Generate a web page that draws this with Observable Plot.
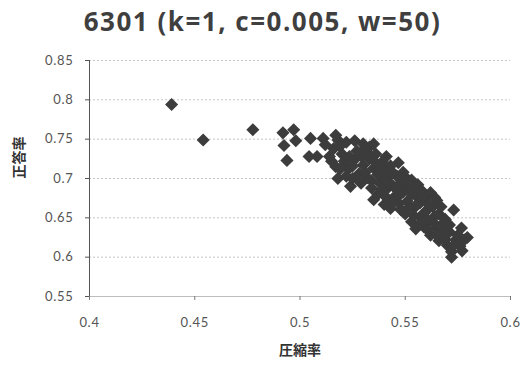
<!DOCTYPE html>
<html>
<head>
<meta charset="utf-8">
<script src="https://cdn.jsdelivr.net/npm/d3@7"></script>
<script src="https://cdn.jsdelivr.net/npm/@observablehq/plot@0.6"></script>
<style>
  html, body { margin: 0; padding: 0; background: #fff; }
  #title { width: 525px; height: 46px; line-height: 42px; text-align: center; letter-spacing: 1.5px;
           font-family: "Open Sans", Lato, sans-serif; font-weight: bold; font-size: 26px; color: #3f3f3f; }
  svg g[aria-label="x-axis tick label"], svg g[aria-label="y-axis tick label"] { fill: #555; letter-spacing: 0.7px; }
</style>
</head>
<body>
<div id="title">6301 (k=1, c=0.005, w=50)</div>
<div id="chart"></div>
<script>
// 圧縮率 (compression ratio)
const compression = [
  0.439, 0.454, 0.4776, 0.4919, 0.497, 0.498, 0.4924, 0.4938, 0.505, 0.5043, 0.5081, 0.511, 0.517,
  0.512, 0.514, 0.516, 0.517, 0.518, 0.518, 0.520, 0.521, 0.519,
  0.522, 0.523, 0.5235, 0.524, 0.525, 0.526, 0.526, 0.528, 0.529, 0.530, 0.530, 0.531, 0.529,
  0.532, 0.533, 0.534, 0.535, 0.535, 0.536, 0.537, 0.537, 0.538, 0.539, 0.540, 0.540, 0.541, 0.533,
  0.542, 0.543, 0.543, 0.544, 0.545, 0.546, 0.5467, 0.547, 0.548, 0.549, 0.550, 0.550, 0.551,
  0.552, 0.553, 0.553, 0.554, 0.555, 0.555, 0.556, 0.557, 0.557, 0.558, 0.559, 0.560, 0.560, 0.561,
  0.562, 0.562, 0.563, 0.564, 0.565, 0.565, 0.566, 0.566, 0.568, 0.569, 0.569, 0.570,
  0.571, 0.572, 0.573, 0.574, 0.5767, 0.576, 0.578, 0.5795, 0.577, 0.572,
  0.515, 0.519, 0.522, 0.525, 0.527, 0.528, 0.531, 0.532, 0.534, 0.536, 0.538, 0.539, 0.539,
  0.541, 0.541, 0.542, 0.544, 0.544, 0.546, 0.547, 0.548, 0.549, 0.551, 0.552, 0.553, 0.554,
  0.555, 0.556, 0.557, 0.558, 0.559, 0.561, 0.561, 0.563, 0.564, 0.565, 0.567, 0.567, 0.569,
  0.571, 0.573, 0.575, 0.535
];
// 正答率 (accuracy)
const accuracy = [
  0.794, 0.749, 0.762, 0.758, 0.762, 0.748, 0.742, 0.723, 0.751, 0.728, 0.728, 0.751, 0.755,
  0.743, 0.728, 0.738, 0.715, 0.749, 0.700, 0.731, 0.722, 0.741,
  0.746, 0.712, 0.728, 0.690, 0.700, 0.748, 0.724, 0.706, 0.729, 0.744, 0.717, 0.738, 0.694,
  0.701, 0.725, 0.688, 0.673, 0.713, 0.731, 0.680, 0.705, 0.694, 0.721, 0.667, 0.712, 0.686, 0.740,
  0.702, 0.662, 0.716, 0.691, 0.677, 0.703, 0.720, 0.668, 0.695, 0.683, 0.655, 0.702, 0.671,
  0.689, 0.645, 0.698, 0.662, 0.636, 0.678, 0.692, 0.651, 0.669, 0.684, 0.638, 0.676, 0.659, 0.646,
  0.682, 0.628, 0.664, 0.652, 0.672, 0.637, 0.621, 0.655, 0.643, 0.630, 0.648, 0.615,
  0.632, 0.607, 0.660, 0.622, 0.637, 0.614, 0.622, 0.625, 0.608, 0.600,
  0.722, 0.712, 0.703, 0.716, 0.735, 0.698, 0.708, 0.732, 0.697, 0.720, 0.712, 0.686, 0.702,
  0.676, 0.728, 0.694, 0.708, 0.670, 0.686, 0.678, 0.660, 0.708, 0.694, 0.664, 0.680, 0.653,
  0.688, 0.668, 0.642, 0.676, 0.656, 0.667, 0.634, 0.645, 0.676, 0.628, 0.638, 0.664, 0.622,
  0.641, 0.615, 0.628, 0.744
];
const xTicks = [0.4, 0.45, 0.5, 0.55, 0.6];
const yTicks = [0.55, 0.6, 0.65, 0.7, 0.75, 0.8, 0.85];

const points = compression.map((c, i) => ({c, a: accuracy[i]}));
const fmt = d => String(Math.round(d * 100) / 100);

const chart = Plot.plot({
  width: 525,
  height: 322,
  marginLeft: 89,
  marginRight: 15,
  marginTop: 14,
  marginBottom: 72,
  style: {fontFamily: "Lato, 'Open Sans', sans-serif", fontSize: "13px", background: "#fff"},
  x: {domain: [0.4, 0.6], nice: false},
  y: {domain: [0.55, 0.85], nice: false},
  marks: [
    Plot.gridY(yTicks, {stroke: "#c4c4c4", strokeOpacity: 1, strokeDasharray: "2,2"}),
    Plot.ruleY([0.55], {stroke: "#bdbdbd"}),
    Plot.ruleX([0.4], {stroke: "#555"}),
    Plot.axisX({ticks: xTicks, tickFormat: fmt, tickSize: 4, tickPadding: 17, label: null, stroke: "#777"}),
    Plot.axisY({ticks: yTicks, tickFormat: fmt, tickSize: 4, tickPadding: 12, label: null, stroke: "#555"}),
    Plot.dot(points, {x: "c", y: "a", symbol: "diamond2", r: 5.9, fill: "#3c3c3c", stroke: "none"}),
    Plot.text(["圧縮率"], {frameAnchor: "bottom", dy: 58, fontFamily: "'Noto Sans CJK JP', sans-serif",
      fontWeight: "bold", fontSize: 14, fill: "#333"}),
    Plot.text(["正答率"], {frameAnchor: "left", dx: -70, rotate: -90, fontFamily: "'Noto Sans CJK JP', sans-serif",
      fontWeight: "bold", fontSize: 14, fill: "#333"})
  ]
});
document.getElementById("chart").appendChild(chart);
</script>
</body>
</html>
